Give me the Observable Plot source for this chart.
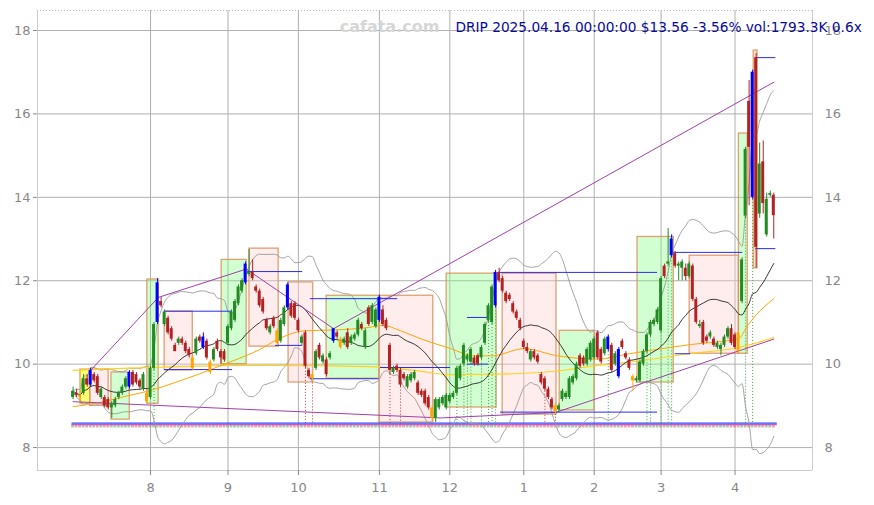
<!DOCTYPE html>
<html><head><meta charset="utf-8">
<script src="https://cdn.jsdelivr.net/npm/d3@7"></script>
<script src="https://cdn.jsdelivr.net/npm/@observablehq/plot@0.6"></script>
<style>body{margin:0;background:#fff;}</style>
</head><body><div id="chart"></div>
<script>
// ---- daily OHLC (trading-day index 0 = 2024-07-01 ... 199 = 2025-04-16) ----
const open = [
 // Jul
 9.20,9.30,9.25,9.30,9.65,9.50,9.75,9.70,9.20,9.20,9.15,8.95,9.00,9.20,9.30,9.45,9.45,9.80,9.75,9.60,9.40,9.30,
 // Aug
 9.20,9.90,11.00,11.50,10.95,11.10,10.85,10.45,10.50,10.60,10.50,10.35,10.15,10.25,10.65,10.40,10.55,10.05,10.10,10.55,10.30,10.30,
 // Sep
 10.50,10.85,11.05,11.45,11.75,11.95,12.15,12.20,11.85,11.75,11.55,11.05,10.75,11.10,10.80,10.55,10.95,11.35,11.45,11.45,
 // Oct
 11.05,10.50,10.75,9.85,9.75,9.90,10.45,10.05,10.10,10.15,10.55,10.75,10.60,10.50,10.75,10.50,10.60,10.70,10.95,10.40,11.35,11.00,10.90,
 // Nov
 11.05,11.30,11.05,10.45,9.80,9.95,9.85,9.75,9.45,9.60,9.65,9.55,9.35,9.35,9.20,8.95,8.70,8.95,9.05,8.95,
 // Dec
 9.10,9.20,9.30,9.65,10.00,10.10,10.05,10.15,10.20,10.15,10.50,11.05,11.00,11.40,12.20,12.05,11.70,11.65,11.45,11.25,11.05,
 // Jan
 10.55,10.40,10.10,10.30,10.20,9.75,9.65,9.40,9.15,9.00,8.90,9.15,9.20,9.20,9.55,9.65,10.20,10.15,10.00,10.10,
 // Feb
 10.15,10.75,10.35,10.25,10.35,10.45,10.00,9.70,10.55,10.25,10.10,9.70,9.60,9.60,10.00,10.30,10.70,10.95,11.00,
 // Mar
 10.80,12.35,12.40,12.60,12.65,12.35,12.30,12.30,12.10,12.35,11.55,10.90,11.00,10.65,10.65,10.60,10.40,10.35,10.45,10.65,10.85,
 // Apr
 10.70,10.75,11.50,13.55,16.30,14.00,17.35,13.60,14.85,13.10,14.05,14.05];
const high = [
 9.45,9.40,9.35,9.75,9.75,9.90,9.80,9.75,9.45,9.25,9.20,9.10,9.20,9.35,9.50,9.70,9.85,9.85,9.80,9.65,9.80,9.35,
 9.95,11.00,12.05,11.60,11.30,11.15,10.90,10.50,10.65,10.65,10.55,10.40,10.20,10.65,10.70,10.75,10.60,10.10,10.40,10.60,10.35,10.35,
 10.95,11.30,11.55,11.90,12.05,12.45,12.75,12.50,11.90,11.80,11.60,11.10,10.95,11.15,10.85,11.10,11.40,11.95,11.50,11.50,
 11.10,10.70,10.80,9.90,9.80,10.35,10.50,10.25,10.15,10.30,10.85,10.80,10.65,10.65,10.85,10.70,10.75,11.10,11.00,10.85,11.40,11.45,11.35,
 11.65,11.40,11.10,10.50,9.95,10.00,9.90,9.80,9.75,9.80,9.85,9.60,9.40,9.40,9.25,9.00,9.20,9.20,9.25,9.30,
 9.30,9.35,9.95,10.00,10.50,10.25,10.40,10.20,10.25,10.45,11.00,11.45,11.90,12.25,12.30,12.10,11.75,11.70,11.50,11.30,11.10,
 10.60,10.50,10.35,10.35,10.25,9.80,9.70,9.45,9.20,9.05,9.05,9.40,9.35,9.70,9.75,10.05,10.25,10.20,10.40,10.55,
 10.65,10.80,10.40,10.65,10.70,10.50,10.30,10.40,10.60,10.30,10.15,9.75,9.70,10.10,10.35,10.75,11.05,11.10,11.35,
 12.10,12.40,13.25,13.10,12.70,12.45,12.50,12.40,12.45,12.40,11.60,11.05,11.05,10.70,10.80,10.65,10.55,10.50,10.70,10.90,10.95,
 10.75,10.80,12.55,15.20,16.80,17.05,17.45,15.30,15.35,14.10,14.15,14.10];
const low = [
 9.15,9.20,9.10,9.25,9.45,9.45,9.55,9.25,9.15,8.95,8.90,8.70,8.95,9.15,9.25,9.40,9.40,9.45,9.50,9.40,9.35,9.05,
 9.15,9.85,10.95,11.35,10.90,10.70,10.55,10.30,10.45,10.45,10.25,10.15,9.85,10.20,10.50,10.35,10.10,9.75,10.05,10.30,10.00,10.05,
 10.45,10.80,11.00,11.40,11.70,11.90,12.10,12.00,11.70,11.35,11.20,10.80,10.70,10.85,10.45,10.50,10.90,11.30,11.10,11.05,
 10.75,10.45,9.90,9.65,9.55,9.85,10.10,10.00,9.70,10.10,10.50,10.60,10.35,10.45,10.35,10.45,10.55,10.65,10.80,10.35,10.90,10.95,10.85,
 11.00,10.90,10.80,9.75,9.75,9.80,9.45,9.60,9.40,9.55,9.60,9.25,9.20,9.00,8.90,8.60,8.60,8.90,9.00,8.90,
 9.05,9.15,9.25,9.60,9.95,10.05,10.00,9.95,9.95,10.10,10.45,11.00,10.95,11.35,11.95,11.70,11.45,11.50,11.20,11.05,10.80,
 10.35,10.25,10.05,10.10,10.00,9.50,9.35,9.15,8.90,8.80,8.85,9.10,9.15,9.15,9.50,9.60,9.90,9.95,9.95,10.05,
 10.10,10.10,10.00,10.20,10.30,9.80,9.95,9.65,10.35,10.10,9.85,9.35,9.55,9.55,9.95,10.25,10.65,10.90,10.95,
 10.75,12.05,12.35,12.55,12.30,12.00,12.00,12.00,12.05,11.50,10.95,10.85,10.45,10.50,10.60,10.40,10.35,10.20,10.40,10.60,10.45,
 10.35,10.25,11.45,13.50,13.80,13.95,12.30,13.50,13.60,13.05,14.00,13.00];
const close = [
 9.35,9.25,9.20,9.65,9.50,9.85,9.60,9.30,9.40,9.00,8.95,9.05,9.15,9.30,9.45,9.65,9.80,9.50,9.55,9.45,9.75,9.10,
 9.90,10.95,11.95,11.40,11.25,10.75,10.60,10.30,10.60,10.50,10.30,10.20,9.90,10.60,10.55,10.65,10.15,9.80,10.35,10.35,10.15,10.10,
 10.90,11.25,11.50,11.85,12.00,12.40,12.20,12.05,11.75,11.40,11.25,10.85,10.90,10.90,10.50,11.05,11.35,11.90,11.15,11.10,
 10.80,10.65,9.95,9.70,9.65,10.30,10.15,10.20,9.75,10.25,10.85,10.65,10.40,10.60,10.40,10.65,10.70,11.05,10.85,10.80,10.95,11.40,11.30,
 11.60,10.95,10.85,9.85,9.90,9.85,9.50,9.65,9.70,9.75,9.80,9.30,9.25,9.05,8.95,8.70,9.15,9.15,9.20,9.25,
 9.25,9.30,9.90,9.95,10.45,10.20,10.35,10.00,10.00,10.40,10.95,11.40,11.85,12.20,12.00,11.75,11.50,11.55,11.25,11.10,10.85,
 10.40,10.30,10.30,10.15,10.05,9.55,9.40,9.20,8.95,8.85,9.00,9.35,9.30,9.65,9.70,10.00,9.95,10.00,10.35,10.50,
 10.60,10.15,10.05,10.60,10.65,9.85,10.25,10.35,10.40,10.15,9.90,9.60,9.65,10.05,10.30,10.70,11.00,11.05,11.30,
 12.05,12.10,12.45,13.00,12.35,12.40,12.45,12.10,12.40,11.55,11.00,10.95,10.50,10.55,10.75,10.45,10.50,10.45,10.65,10.85,10.50,
 10.40,10.30,12.50,15.15,15.20,17.00,12.80,14.80,13.85,13.95,14.06,13.56];

// month ticks (first trading day index of each month) and their labels
const monthTicks = [22,44,64,87,107,128,148,167,188];
const monthLabels = ["8","9","10","11","12","1","2","3","4"];
const priceTicks = [8,10,12,14,16,18];

// swing markers (blue = pivot high bars, orange = pivot low bars)
const pivotHighs = [5,16,24,37,49,61,74,87,120,152,155,170,193];
const pivotLows = [2,21,34,39,58,68,76,102,137,159,189];

// swing boxes
const boxStart = [2.1,4.9,10.9,21.1,26,42.2,50.1,61.2,72,87,106.1,122,138.2,160.3,175.1,189.1,193.3];
const boxEnd   = [4.9,10.1,16.1,24.3,34,49.3,58.4,68.2,87,102.3,120.3,137.3,148.1,170.6,189.1,191.6,194.4];
const boxLow   = [9.05,9.0,8.67,9.05,9.85,10.0,10.42,9.56,9.65,8.6,8.96,8.79,8.89,9.56,10.25,10.25,12.3];
const boxHigh  = [9.87,9.87,9.8,12.03,11.26,12.5,12.77,11.96,11.64,11.64,12.17,12.17,10.8,13.05,12.6,15.53,17.52];
const boxKind  = ["yellow","down","up","up","down","up","down","down","up","down","up","down","up","up","down","up","peak"];

// horizontal level segments
const levelStart = [26,26,49.6,57.5,67.4,67.4,87.3,112,112,121.4,121.4,170.6,171,193.9,193.9];
const levelEnd   = [45.3,45.3,65.2,65.2,92.2,86.8,107.2,118,118,166,166,190.2,175.4,199.6,199.6];
const levelValue = [11.27,9.87,12.22,10.45,11.57,9.65,9.92,11.12,10.0,12.2,8.85,12.68,10.25,17.35,12.77];

// trend lines (purple)
const upperTrendIdx = [5.2,24.2,49.2,74,199];
const upperTrendVal = [9.87,11.6,12.28,10.85,16.76];
const lowerTrendIdx = [0,104.4,137,199];
const lowerTrendVal = [9.1,8.71,8.84,10.6];

// longer moving averages
const orangeIdx = [0,8,16,22,29,36,43,49,53,57.5,66,74,84,88,93,99,107,114,119,128,137.6,149,158,164,175.4,189,191.6,193.9,199];
const orangeVal = [8.98,9.09,9.25,9.37,9.56,9.77,10.0,10.2,10.35,10.57,10.8,10.82,10.88,10.93,10.8,10.6,10.38,10.2,10.2,10.37,10.2,10.12,10.25,10.33,10.47,10.61,10.93,11.17,11.57];
const yellowIdx = [0,53,84,97,107,125,137,149,160,175,189,199];
const yellowVal = [9.85,9.97,9.94,9.85,9.75,9.77,9.83,9.97,10.07,10.25,10.4,10.64];

// signal bars (dotted verticals)
const greenSignals = [23,109,111,112,113,116,118,119,120,152,163,164,167,169,170,191,193];
const redSignals = [66,68,90,93,134,137];

const titleText = "DRIP 2025.04.16 00:00:00 $13.56 -3.56% vol:1793.3K 0.6x";

// ---- build tables ----
const hiSet = new Set(pivotHighs), loSet = new Set(pivotLows);
const candles = close.map((c, i) => ({
  i, o: open[i], h: high[i], l: low[i], c,
  color: hiSet.has(i) ? "#0000ff" : loSet.has(i) ? "#ffa500" : (c >= open[i] ? "#228b22" : "#b22222"),
  up: c >= open[i]
}));
const bb = close.map((c, i) => {
  const w = close.slice(Math.max(0, i - 19), i + 1);
  const m = d3.mean(w), s = d3.deviation(w) || 0;
  const sd = Math.sqrt(d3.sum(w, v => (v - m) ** 2) / w.length);
  return {i, m, up: m + 2 * sd, dn: m - 2 * sd};
});
const boxes = boxStart.map((s, k) => ({s, e: boxEnd[k], lo: boxLow[k], hi: boxHigh[k], kind: boxKind[k]}));
const boxFill = {up: "#7dff7d", down: "#ffc8c8", yellow: "#ffff40", peak: "#f7c7a8"};
const boxOp = {up: 0.35, down: 0.35, yellow: 0.75, peak: 0.5};
const levels = levelStart.map((s, k) => ({s, e: levelEnd[k], v: levelValue[k]}));
const upperTrend = upperTrendIdx.map((x, k) => ({x, y: upperTrendVal[k]}));
const lowerTrend = lowerTrendIdx.map((x, k) => ({x, y: lowerTrendVal[k]}));
const orangeMA = orangeIdx.map((x, k) => ({x, y: orangeVal[k]}));
const yellowMA = yellowIdx.map((x, k) => ({x, y: yellowVal[k]}));
const labelMap = new Map(monthTicks.map((t, k) => [t, monthLabels[k]]));
const XMIN = -10.1, XMAX = 210, YMIN = 7.45, YMAX = 18.48;

const chart = Plot.plot({
  width: 874, height: 505,
  marginLeft: 37, marginRight: 62, marginTop: 10, marginBottom: 35,
  style: {fontFamily: "DejaVu Sans, sans-serif", fontSize: "13px", background: "#fff", overflow: "visible"},
  x: {domain: [XMIN, XMAX], axis: null},
  y: {domain: [YMIN, YMAX], axis: null},
  marks: [
    // grid
    Plot.ruleY(priceTicks, {stroke: "#b0b0b0", strokeWidth: 1}),
    Plot.ruleX(monthTicks, {stroke: "#b0b0b0", strokeWidth: 1}),
    // frame
    Plot.ruleX([XMIN, XMAX], {stroke: "#cccccc"}),
    Plot.ruleY([YMIN], {stroke: "#cccccc"}),
    Plot.ruleY([YMAX], {stroke: "#bbbbbb", strokeDasharray: "1,2"}),
    // axes
    Plot.axisY(priceTicks, {anchor: "left", tickSize: 4, tickPadding: 3, color: "#888", fontSize: 13, label: null}),
    Plot.axisY(priceTicks, {anchor: "right", tickSize: 0, tickPadding: 12, color: "#888", fontSize: 13, label: null}),
    Plot.axisX(monthTicks, {anchor: "bottom", tickSize: 5, tickPadding: 7, color: "#888", fontSize: 13, label: null, tickFormat: d => labelMap.get(d)}),
    // swing boxes
    Plot.rect(boxes, {x1: "s", x2: "e", y1: "lo", y2: "hi", fill: d => boxFill[d.kind], fillOpacity: d => boxOp[d.kind], stroke: "#d8925a", strokeWidth: 1.3, strokeOpacity: 0.85}),
    // bottom strip
    Plot.rect(candles, {x1: d => d.i - 0.4, x2: d => d.i + 0.4, y1: 8.47, y2: 8.545, fill: d => d.up ? "#6aa86a" : "#d07070", fillOpacity: 0.6}),
    Plot.ruleY([8.552], {x1: -0.3, x2: 200, stroke: "#cc55cc", strokeWidth: 1.2}),
    Plot.ruleY([8.585], {x1: -0.3, x2: 200, stroke: "#3344ff", strokeWidth: 1.2}),
    // signal dotted verticals
    Plot.ruleX(greenSignals, {x: d => d, y1: d => low[d], y2: 8.55, stroke: "#33aa33", strokeDasharray: "1,2", strokeWidth: 1}),
    Plot.ruleX(redSignals, {x: d => d, y1: d => low[d], y2: 8.55, stroke: "#cc3333", strokeDasharray: "1,2", strokeWidth: 1}),
    // bollinger + moving averages
    Plot.line(bb, {x: "i", y: "up", stroke: "#999", strokeWidth: 0.9, curve: "monotone-x"}),
    Plot.line(bb, {x: "i", y: "dn", stroke: "#999", strokeWidth: 0.9, curve: "monotone-x"}),
    Plot.line(yellowMA, {x: "x", y: "y", stroke: "#ffd21f", strokeWidth: 1.2, curve: "monotone-x"}),
    Plot.line(orangeMA, {x: "x", y: "y", stroke: "#ffa500", strokeWidth: 1, curve: "monotone-x"}),
    Plot.line(bb, {x: "i", y: "m", stroke: "#222", strokeWidth: 0.9, curve: "monotone-x"}),
    // trend lines
    Plot.line(upperTrend, {x: "x", y: "y", stroke: "#a040a8", strokeWidth: 1}),
    Plot.line(lowerTrend, {x: "x", y: "y", stroke: "#a040a8", strokeWidth: 1}),
    // levels
    Plot.ruleY(levels, {x1: "s", x2: "e", y: "v", stroke: "#2a2aee", strokeWidth: 1}),
    // candles
    Plot.ruleX(candles, {x: "i", y1: "l", y2: "h", stroke: "color", strokeWidth: 1}),
    Plot.rect(candles, {x1: d => d.i - 0.42, x2: d => d.i + 0.42, y1: d => Math.min(d.o, d.c), y2: d => Math.max(d.o, d.c) + (Math.abs(d.o - d.c) < 0.03 ? 0.03 : 0), fill: "color"}),
    // texts
    Plot.text(["cafata.com"], {frameAnchor: "top-left", dx: 352, dy: 16, text: d => d, fill: "#d6d6d6", fontWeight: "bold", fontSize: 16, textAnchor: "middle", lineAnchor: "middle"}),
    Plot.text([titleText], {frameAnchor: "top-left", dx: 418, dy: 17, text: d => d, fill: "#0a0a9a", fontSize: 13.7, textAnchor: "start", lineAnchor: "middle"})
  ]
});
document.getElementById("chart").appendChild(chart);
</script>
</body></html>
